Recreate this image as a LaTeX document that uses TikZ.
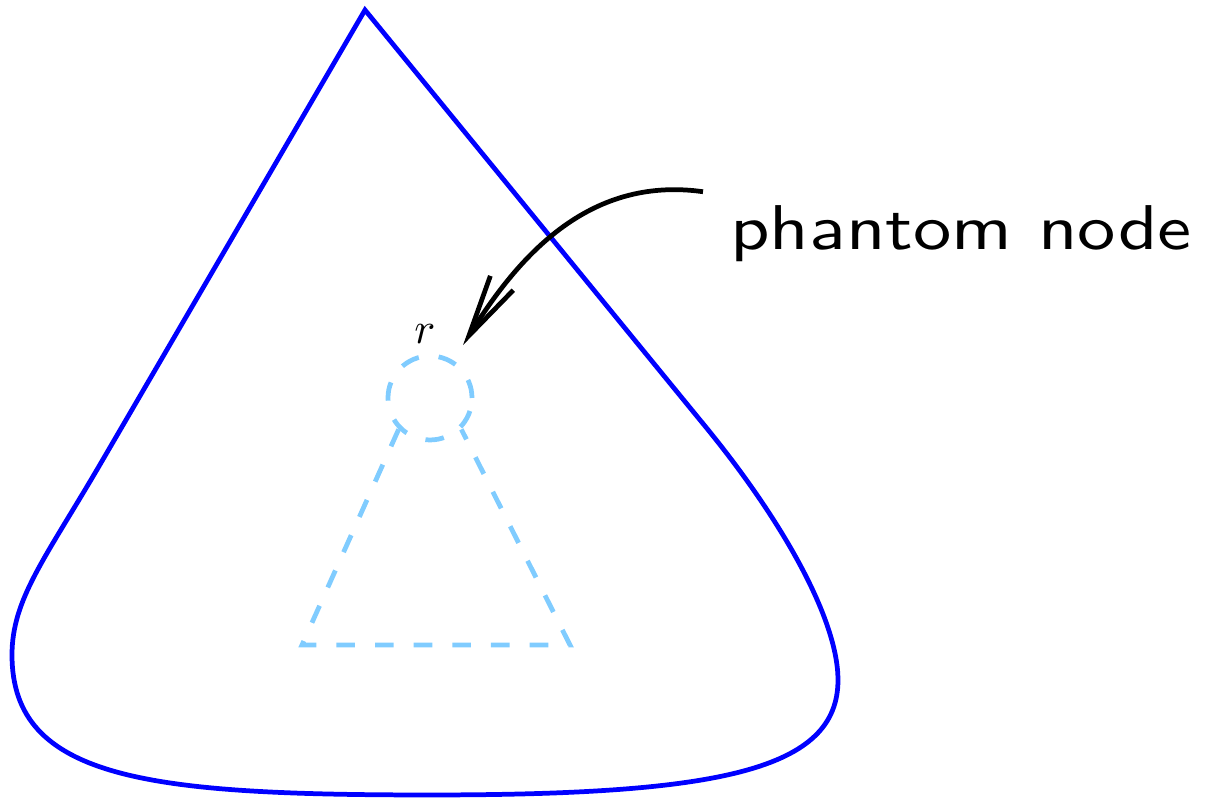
\documentclass[tikz,border=0pt]{standalone}
\usepackage{amsmath,amsfonts,amssymb}
\usepackage{xcolor}
\usepackage{tikz}
\usetikzlibrary{arrows.meta}

\definecolor{phantomblue}{RGB}{128,204,255}

\begin{document}
\begin{tikzpicture}[
    outline/.style={draw=blue, line width=1.35pt},
    phantom/.style={draw=phantomblue, line width=1.35pt, dash pattern=on 5.3pt off 5.7pt},
    pointer/.style={line width=1.35pt, -{Straight Barb[length=6.2mm,width=2.7mm,line width=1.35pt]}}
  ]
        \useasboundingbox (0,0) rectangle (12.11,7.98);

        % Big tree outline
        \draw[outline] (3.65,7.88) -- (0.98,3.30)
            .. controls (0.44,2.38) and (0.12,1.98) .. (0.12,1.43)
            .. controls (0.12,0.18) and (1.50,0.03) .. (4.30,0.03)
            .. controls (7.20,0.03) and (8.38,0.28) .. (8.38,1.18)
            .. controls (8.38,1.78) and (7.83,2.78) .. (7.00,3.78) -- cycle;

        % Phantom node and its subtree
        \node[circle, phantom, minimum size=0.84cm, inner sep=0pt,
              label={[xshift=-0.05cm, scale=1.25, inner sep=2pt]above:$r$}] (r) at (4.30,4.00) {};
        \draw[phantom] (r.-135) -- (3.02,1.53) -- (5.70,1.53) -- (r.-45);

        % Caption
        \node[anchor=base west, font=\sffamily, xscale=2.18, yscale=1.8] (pn) at (7.03,5.48) {phantom node};

        % Arrow
        \draw[pointer, shorten >=1.8mm] ([yshift=-0.08cm]pn.north west) to[out=172, in=58] (r.58);
    \end{tikzpicture}
\end{document}
